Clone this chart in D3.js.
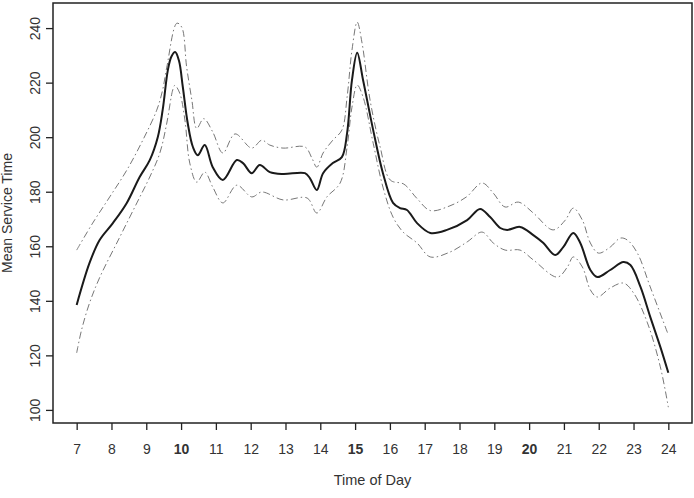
<!DOCTYPE html>
<html>
<head>
<meta charset="utf-8">
<script src="https://cdn.jsdelivr.net/npm/d3@7"></script>
<style>
  body { margin: 0; background: #fff; }
  svg { display: block; font-family: "Liberation Sans", Arial, sans-serif; }
</style>
</head>
<body>
<div id="chart"></div>
<script>
// fitted mean service time (solid line)
const meanHours = [7.0, 7.37, 7.66, 8.04, 8.44, 8.81, 9.10, 9.33, 9.47, 9.62, 9.72, 9.83, 9.94, 10.05, 10.19, 10.34, 10.48, 10.68, 10.91, 11.20, 11.60, 11.78, 12.03, 12.26, 12.55, 12.93, 13.56, 13.70, 13.90, 14.08, 14.36, 14.62, 14.77, 14.91, 15.06, 15.23, 15.52, 15.80, 16.09, 16.29, 16.49, 16.78, 17.16, 17.64, 18.22, 18.59, 18.88, 19.17, 19.37, 19.74, 20.12, 20.41, 20.75, 20.98, 21.27, 21.47, 21.76, 21.96, 22.33, 22.71, 22.91, 23.20, 23.48, 23.77, 24.0];
const meanValues = [138.5, 153.9, 162.3, 168.5, 175.9, 185.4, 191.6, 200.0, 209.9, 224.6, 229.5, 231.2, 228.0, 218.4, 205.2, 196.4, 193.4, 197.1, 189.0, 184.3, 191.6, 190.5, 186.8, 189.8, 187.2, 186.5, 186.8, 185.0, 180.6, 186.8, 190.5, 192.7, 201.5, 220.9, 231.0, 220.9, 202.6, 186.8, 175.9, 174.0, 173.3, 168.5, 164.9, 166.0, 169.6, 173.7, 170.7, 166.7, 166.0, 167.1, 164.1, 161.2, 156.8, 159.7, 164.9, 161.2, 151.3, 148.7, 151.3, 154.2, 153.1, 145.1, 134.1, 123.1, 113.6];

// upper confidence band (dot-dash)
const upperHours = [7.0, 7.46, 7.95, 8.44, 8.90, 9.30, 9.47, 9.59, 9.88, 10.02, 10.16, 10.31, 10.45, 10.65, 10.91, 11.20, 11.55, 12.03, 12.32, 12.55, 12.93, 13.56, 13.76, 13.90, 14.08, 14.36, 14.62, 14.77, 14.91, 15.06, 15.20, 15.43, 15.72, 16.01, 16.40, 16.78, 17.16, 17.70, 18.20, 18.65, 18.97, 19.31, 19.69, 20.12, 20.69, 21.04, 21.27, 21.53, 21.76, 21.99, 22.33, 22.62, 22.82, 23.11, 23.48, 24.0];
const upperValues = [158.6, 168.5, 178.1, 187.9, 198.9, 209.9, 217.3, 225.7, 241.8, 240.3, 225.7, 213.6, 203.2, 206.8, 201.9, 194.2, 201.2, 196.0, 198.9, 197.1, 196.0, 196.4, 192.3, 189.0, 194.2, 198.9, 202.6, 214.7, 231.9, 242.2, 234.5, 213.6, 196.4, 184.3, 182.8, 177.5, 173.1, 174.7, 178.1, 183.2, 179.5, 174.4, 176.2, 172.2, 166.0, 169.6, 174.0, 169.6, 161.2, 157.5, 159.7, 163.0, 162.3, 157.5, 145.1, 127.5];

// lower confidence band (dot-dash)
const lowerHours = [7.0, 7.14, 7.37, 7.66, 8.24, 8.73, 9.10, 9.39, 9.59, 9.76, 9.82, 9.96, 10.11, 10.25, 10.45, 10.68, 10.91, 11.20, 11.60, 12.03, 12.32, 12.93, 13.62, 13.90, 14.19, 14.57, 14.77, 14.91, 15.06, 15.23, 15.52, 15.80, 16.09, 16.38, 16.78, 17.16, 17.73, 18.22, 18.65, 18.97, 19.31, 19.74, 20.12, 20.81, 21.10, 21.27, 21.53, 21.76, 21.96, 22.33, 22.71, 23.0, 23.40, 23.77, 24.0];
const lowerValues = [120.9, 129.3, 139.2, 148.5, 163.4, 175.9, 185.4, 194.2, 205.2, 217.3, 219.0, 216.2, 206.3, 190.5, 183.5, 187.2, 181.7, 175.9, 182.4, 178.1, 179.9, 177.0, 177.7, 172.2, 178.1, 183.2, 196.4, 211.0, 219.1, 214.7, 197.8, 181.7, 170.7, 165.2, 161.2, 156.1, 157.9, 161.6, 165.2, 161.2, 158.6, 158.6, 155.0, 148.7, 152.4, 156.1, 152.4, 144.0, 141.4, 144.7, 146.5, 142.9, 131.9, 115.8, 101.0];

const xTicks = [7, 8, 9, 10, 11, 12, 13, 14, 15, 16, 17, 18, 19, 20, 21, 22, 23, 24];
const boldTicks = [10, 15, 20];
const yTicks = [100, 120, 140, 160, 180, 200, 220, 240];

const width = 694, height = 498;
const box = { left: 53, right: 692, top: 3, bottom: 423 };

const svg = d3.select("#chart").append("svg")
    .attr("width", width)
    .attr("height", height);

const x = d3.scaleLinear().domain([6.32, 24.68]).range([box.left, box.right]);
const y = d3.scaleLinear().domain([95.2, 249.2]).range([box.bottom, box.top]);

const line = d3.line()
    .x(d => x(d[0]))
    .y(d => y(d[1]))
    .curve(d3.curveCatmullRom.alpha(0.5));

function pairs(hours, values) {
    return hours.map((h, i) => [h, values[i]]);
}

// bands
[pairs(upperHours, upperValues), pairs(lowerHours, lowerValues)].forEach(band => {
    svg.append("path")
        .attr("d", line(band))
        .attr("fill", "none")
        .attr("stroke", "#777")
        .attr("stroke-width", 1)
        .attr("stroke-dasharray", "7,3,1.5,3");
});

// mean line
svg.append("path")
    .attr("d", line(pairs(meanHours, meanValues)))
    .attr("fill", "none")
    .attr("stroke", "#1a1a1a")
    .attr("stroke-width", 2);

// x axis
const xAxis = svg.append("g")
    .attr("transform", `translate(0,${box.bottom})`)
    .call(d3.axisBottom(x).tickValues(xTicks).tickSize(7).tickPadding(14).tickFormat(d3.format("d")));
xAxis.select(".domain").remove();
xAxis.selectAll("line").attr("stroke", "#222").attr("stroke-width", 1.3);
xAxis.selectAll("text")
    .attr("font-size", "14px")
    .attr("fill", "#333")
    .attr("font-family", "Liberation Sans, Arial, sans-serif")
    .attr("font-weight", d => boldTicks.includes(d) ? "bold" : "normal");

// y axis
const yAxis = svg.append("g")
    .attr("transform", `translate(${box.left},0)`)
    .call(d3.axisLeft(y).tickValues(yTicks).tickSize(7));
yAxis.select(".domain").remove();
yAxis.selectAll("line").attr("stroke", "#222").attr("stroke-width", 1.3);
yAxis.selectAll("text")
    .attr("x", null)
    .attr("dy", null)
    .attr("transform", "translate(-13,0) rotate(-90)")
    .attr("text-anchor", "middle")
    .attr("font-size", "14px")
    .attr("fill", "#333")
    .attr("font-family", "Liberation Sans, Arial, sans-serif");

// plot box
svg.append("rect")
    .attr("x", box.left)
    .attr("y", box.top)
    .attr("width", box.right - box.left)
    .attr("height", box.bottom - box.top)
    .attr("fill", "none")
    .attr("stroke", "#222")
    .attr("stroke-width", 1.5);

// axis titles
svg.append("text")
    .attr("x", (box.left + box.right) / 2)
    .attr("y", 485)
    .attr("text-anchor", "middle")
    .attr("font-size", "14.5px")
    .attr("fill", "#333")
    .text("Time of Day");

svg.append("text")
    .attr("transform", `translate(12,${(box.top + box.bottom) / 2}) rotate(-90)`)
    .attr("text-anchor", "middle")
    .attr("font-size", "14px")
    .attr("fill", "#333")
    .text("Mean Service Time");
</script>
</body>
</html>
